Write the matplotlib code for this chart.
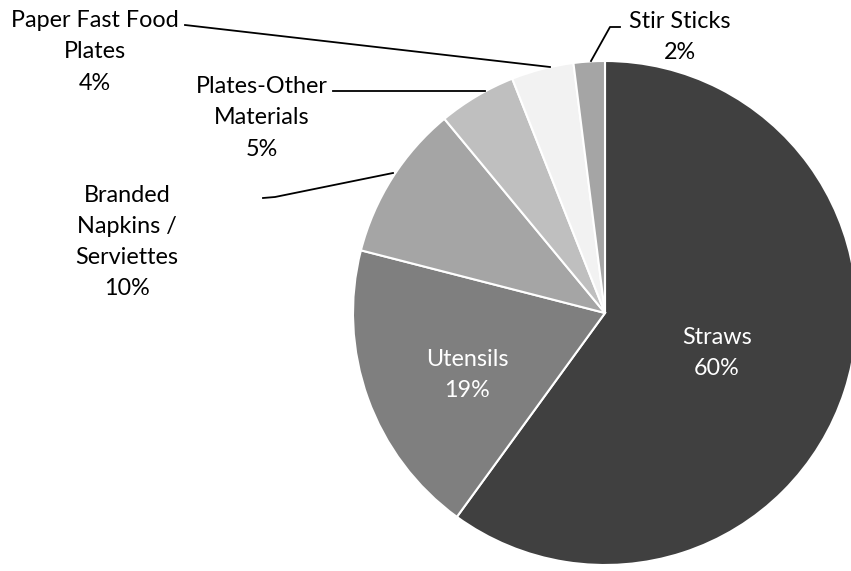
import matplotlib
matplotlib.use("Agg")
import matplotlib.pyplot as plt

# share of items, clockwise from 12 o'clock
categories = ["Straws", "Utensils", "Branded\nNapkins /\nServiettes",
              "Plates-Other\nMaterials", "Paper Fast Food\nPlates", "Stir Sticks"]
shares = [60, 19, 10, 5, 4, 2]
colors = ["#404040", "#7f7f7f", "#a5a5a5", "#bfbfbf", "#f2f2f2", "#a5a5a5"]

W, H = 851, 571
plt.rcParams['font.family'] = ['Lato', 'DejaVu Sans']

fig = plt.figure(figsize=(W / 100, H / 100), dpi=100)
ax = fig.add_axes([0, 0, 1, 1])

cx, cy, r = 605, H - 313, 252
ax.pie(shares, colors=colors, startangle=90, counterclock=False,
       center=(cx, cy), radius=r, frame=True,
       wedgeprops=dict(edgecolor="white", linewidth=1.5))
ax.set_xlim(0, W)
ax.set_ylim(0, H)
ax.set_aspect("equal")
ax.axis("off")

# label positions (pixel coords from top-left) and text colour
label_pos = [(717, 353, "white"), (467, 375, "white"), (127, 242, "black"),
             (262, 118, "black"), (95, 52, "black"), (680, 37, "black")]
for name, val, (x, y, c) in zip(categories, shares, label_pos):
    ax.text(x, H - y, f"{name}\n{val}%", ha="center", va="center",
            fontsize=16.8, color=c, linespacing=1.6)

# leader lines
leaders = [
    [(185, 25), (550, 67)],
    [(333, 91), (485, 91)],
    [(263, 198), (275, 197), (393, 173)],
    [(591, 61), (610, 27), (620, 27)],
]
for pts in leaders:
    xs = [p[0] for p in pts]
    ys = [H - p[1] for p in pts]
    ax.plot(xs, ys, color="black", linewidth=1.3)

fig.savefig("out.png", dpi=100, facecolor="white")
